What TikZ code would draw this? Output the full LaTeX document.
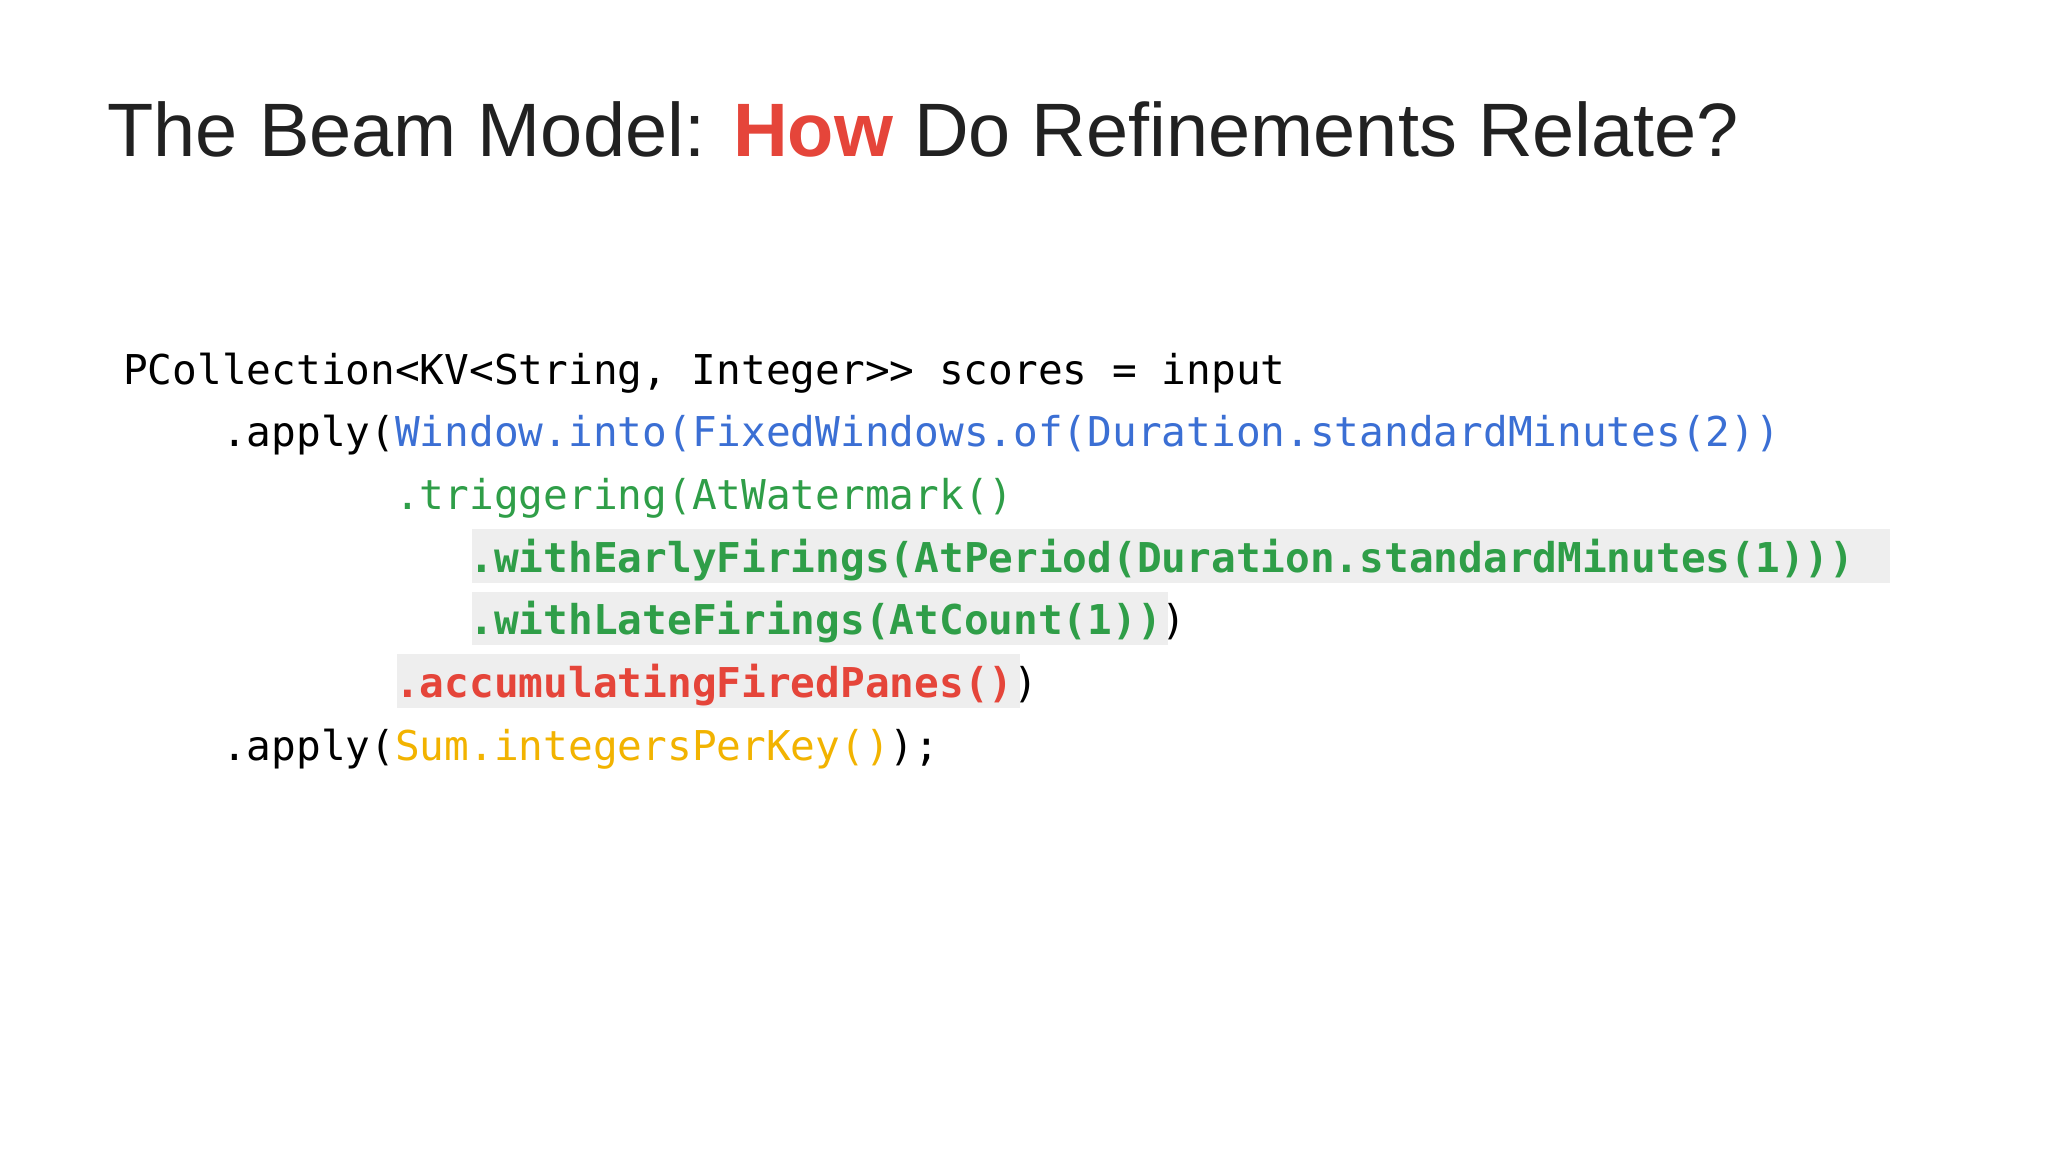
\documentclass[tikz,border=0pt]{standalone}
\usepackage{fontspec}
\setmainfont{Liberation Sans}
\newfontfamily\codefont{DejaVu Sans Mono}
\definecolor{cblue}{HTML}{3B6FD4}
\definecolor{cgreen}{HTML}{2F9E48}
\definecolor{cred}{HTML}{E5453A}
\definecolor{cyel}{HTML}{F2B300}
\definecolor{hl}{HTML}{EEEEEE}
\definecolor{ink}{HTML}{212121}
\begin{document}
\begin{tikzpicture}[x=0.02cm,y=-0.02cm,
  code/.style={anchor=base west,inner sep=0pt,font=\codefont\fontsize{17.9pt}{20pt}\selectfont},
  ttl/.style={anchor=base west,inner sep=0pt,font=\fontsize{33pt}{38pt}\selectfont,text=ink}]
\useasboundingbox (0,0) rectangle (1568,882);
\fill[white] (0,0) rectangle (1568,882);
\fill[hl] (361,405) rectangle (1447,446);
\fill[hl] (361,453) rectangle (894,494);
\fill[hl] (304,501) rectangle (781,542);
\node[ttl] (title) at (82,120) {The Beam Model: \textcolor{cred}{\bfseries How} Do Refinements Relate?};
\node[code] (l1) at (94,294) {PCollection<KV<String, Integer>> scores = input};
\node[code] (l2) at (94,342) {\hphantom{\ \ \ \ }.apply(\textcolor{cblue}{Window.into(FixedWindows.of(Duration.standardMinutes(2))}};
\node[code] (l3) at (94,390) {\hphantom{\ \ \ \ \ \ \ \ \ \ \ }\textcolor{cgreen}{.triggering(AtWatermark()}};
\node[code] (l4) at (94,438) {\hphantom{\ \ \ \ \ \ \ \ \ \ \ \ \ \ }\textcolor{cgreen}{\bfseries .withEarlyFirings(AtPeriod(Duration.standardMinutes(1)))}};
\node[code] (l5) at (94,486) {\hphantom{\ \ \ \ \ \ \ \ \ \ \ \ \ \ }\textcolor{cgreen}{\bfseries .withLateFirings(AtCount(1))})};
\node[code] (l6) at (94,534) {\hphantom{\ \ \ \ \ \ \ \ \ \ \ }\textcolor{cred}{\bfseries .accumulatingFiredPanes()})};
\node[code] (l7) at (94,582) {\hphantom{\ \ \ \ }.apply(\textcolor{cyel}{Sum.integersPerKey()});};
\end{tikzpicture}
\end{document}
